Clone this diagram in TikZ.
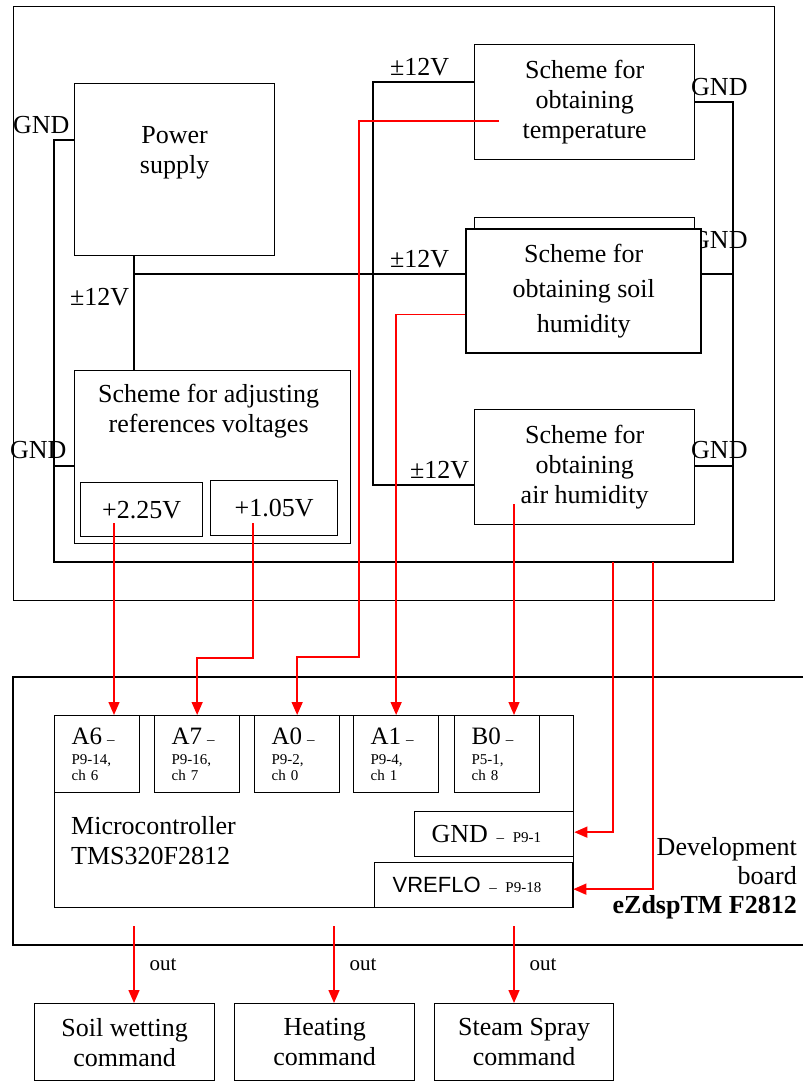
\documentclass[tikz,border=0pt]{standalone}
\usepackage{fontspec}
\setmainfont{Liberation Serif}
\setsansfont{Liberation Sans}
\usetikzlibrary{arrows.meta,positioning}

\begin{document}
\begin{tikzpicture}[
  x=1pt, y=-1pt,
  box/.style={draw, line width=1.3pt, fill=white, inner sep=0pt, align=center, anchor=north west, font=\fontsize{26}{30}\selectfont},
  chbox/.style={box, align=left, inner xsep=17pt, text width=51pt, minimum height=77pt, font=\fontsize{15}{16}\selectfont},
  pinbox/.style={box, align=left, minimum height=45pt, font=\fontsize{26}{30}\selectfont},
  txt/.style={inner sep=0pt, align=center, font=\fontsize{26}{30}\selectfont},
  lbl/.style={inner sep=0pt, anchor=base west, font=\fontsize{26}{30}\selectfont},
  wire/.style={line width=1.3pt},
  sig/.style={draw=red, line width=1.4pt},
  arr/.style={sig, -{Triangle[length=13pt,width=11pt]}}
]
\useasboundingbox (0,0) rectangle (803,1081);

% measuring unit
\node[box, minimum width=761pt, minimum height=594pt] (unit) at (13,6) {};
\node[box, minimum width=200pt, minimum height=172pt] (ps) at (74,83) {};
\node[txt, below=43pt of ps.north] (pstxt) {Power\\supply};
\node[box, minimum width=276pt, minimum height=173pt] (adj) at (74,370) {};
\node[txt, below=14pt of adj.north, xshift=-4pt] (adjtxt) {Scheme for adjusting\\references voltages};
\node[box, minimum width=122pt, minimum height=54pt] (v225) at (80,482) {+2.25V};
\node[box, minimum width=127pt, minimum height=55pt] (v105) at (210,480) {+1.05V};
\node[box, minimum width=220pt, minimum height=115pt] (temp) at (474,44) {Scheme for\\obtaining\\temperature};
\node[lbl] (gsoil) at (691,248) {GND};
\node[box, minimum width=220pt, minimum height=115pt] (soilbk) at (474,217) {};
\node[box, line width=2.4pt, minimum width=235pt, minimum height=124pt, font=\fontsize{26}{35}\selectfont] (soil) at (465,228) {Scheme for\\obtaining soil\\humidity};
\node[box, minimum width=220pt, minimum height=115pt] (air) at (474,409) {Scheme for\\obtaining\\air humidity};

% supply and ground wiring
\coordinate (pv) at (134,274);
\coordinate (v12t) at (373,82);
\coordinate (v12b) at (373,485);
\coordinate (gtl) at (54,140);
\coordinate (gal) at (54,466);
\coordinate (gbl) at (54,562);
\coordinate (gbr) at (733,562);
\coordinate (gtr) at (733,102);
\coordinate (gsr) at (733,274);
\coordinate (gar) at (733,466);
\draw[wire] (pv |- ps.south) -- (pv |- adj.north);
\draw[wire] (pv) -- (pv -| soil.west);
\draw[wire] (v12t -| temp.west) -- (v12t) -- (v12b) -- (v12b -| air.west);
\draw[wire] (gtl -| ps.west) -- (gtl) -- (gbl) -- (gbr) -- (gtr) -- (gtr -| temp.east);
\draw[wire] (gal) -- (gal -| adj.west);
\draw[wire] (gsr) -- (gsr -| soil.east);
\draw[wire] (gar) -- (gar -| air.east);

\node[lbl] (gps) at (13,133) {GND};
\node[lbl] (gadj) at (10,458) {GND};
\node[lbl] (gtemp) at (691,95) {GND};
\node[lbl] (gair) at (691,458) {GND};
\node[lbl] (vps) at (70,305) {±12V};
\node[lbl] (vtemp) at (390,75) {±12V};
\node[lbl] (vsoil) at (390,267) {±12V};
\node[lbl] (vair) at (410,478) {±12V};

% development board
\draw[wire] (803,677) -- (13,677) -- (13,945) -- (803,945);
\node[txt, align=right, anchor=east, font=\fontsize{26}{29}\selectfont] (board) at (797,878) {Development\\board\\\textbf{eZdspTM F2812}};
\node[box, minimum width=519pt, minimum height=192pt] (mcu) at (54,715) {};
\node[txt, align=left, anchor=west] (mcutxt) at (71,841) {Microcontroller\\TMS320F2812};
\node[chbox] (A6) at (54,715) {{\fontsize{25}{25}\selectfont A6 }–\\[4pt]P9-14,\\ch 6};
\node[chbox] (A7) at (154,715) {{\fontsize{25}{25}\selectfont A7 }–\\[4pt]P9-16,\\ch 7};
\node[chbox] (A0) at (254,715) {{\fontsize{25}{25}\selectfont A0 }–\\[4pt]P9-2,\\ch 0};
\node[chbox] (A1) at (353,715) {{\fontsize{25}{25}\selectfont A1 }–\\[4pt]P9-4,\\ch 1};
\node[chbox] (B0) at (454,715) {{\fontsize{25}{25}\selectfont B0 }–\\[4pt]P5-1,\\ch 8};
\node[pinbox, inner xsep=17pt, text width=125pt] (gndp) at (414,811) {GND {\fontsize{15}{16}\selectfont – P9-1}};
\node[pinbox, inner xsep=18pt, text width=162pt] (vref) at (374,862) {{\sffamily\fontsize{22}{24}\selectfont VREFLO} {\fontsize{15}{16}\selectfont – P9-18}};

% actuators
\node[box, minimum width=180pt, minimum height=77pt] (soilc) at (34,1003) {Soil wetting\\command};
\node[box, minimum width=180pt, minimum height=77pt] (heat) at (234,1003) {Heating\\command};
\node[box, minimum width=179pt, minimum height=77pt] (steam) at (434,1003) {Steam Spray\\command};

% signals
\coordinate (tsig) at (499,121);
\coordinate (tbend) at (359,657);
\coordinate (p225) at (114,523);
\coordinate (p105) at (253,523);
\coordinate (b105) at (253,658);
\coordinate (asig) at (514,504);
\coordinate (gt1) at (613,562);
\coordinate (gt2) at (653,562);
\draw[arr] (p225) -- (p225 |- A6.north);
\draw[arr] (p105) -- (b105) -| (A7);
\draw[arr] (tsig) -| (tbend) -| (A0);
\draw[arr] ([yshift=-23pt]soil.west) -| (A1);
\draw[arr] (asig) -- (asig |- B0.north);
\draw[arr] (gt1) |- ([yshift=2pt]gndp.east);
\draw[arr] (gt2) |- ([yshift=-4pt]vref.east);

\coordinate (o1) at (134,926);
\coordinate (o2) at (334,926);
\coordinate (o3) at (514,926);
\draw[arr] (o1) -- (o1 |- soilc.north) node[midway, right=15pt, inner sep=0pt, font=\fontsize{21}{24}\selectfont] {out};
\draw[arr] (o2) -- (o2 |- heat.north) node[midway, right=15pt, inner sep=0pt, font=\fontsize{21}{24}\selectfont] {out};
\draw[arr] (o3) -- (o3 |- steam.north) node[midway, right=15pt, inner sep=0pt, font=\fontsize{21}{24}\selectfont] {out};
\end{tikzpicture}
\end{document}
